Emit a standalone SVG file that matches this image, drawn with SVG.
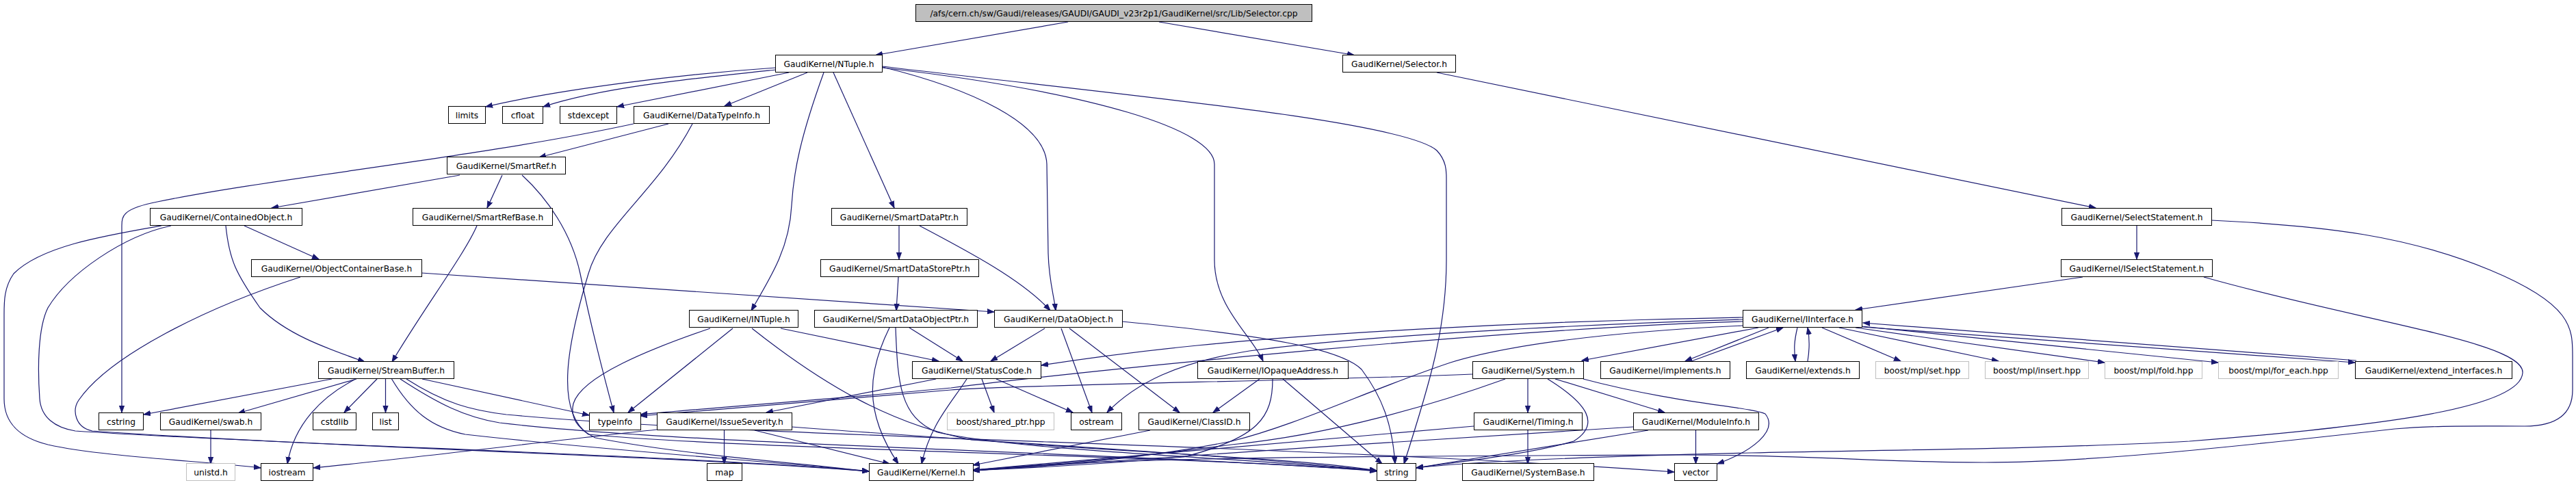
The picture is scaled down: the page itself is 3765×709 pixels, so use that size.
<svg xmlns="http://www.w3.org/2000/svg" width="3765" height="709" viewBox="0 0 3765 709">
<style>
rect{fill:#fff;stroke:#000;stroke-width:1}
.g rect{stroke:#bfbfbf}
.top rect{fill:#bfbfbf}
text{font-family:"DejaVu Sans","Liberation Sans",sans-serif;font-size:12.3px;fill:#000;text-anchor:middle}
#edges path{fill:none;stroke:#191970;stroke-width:1.2;marker-end:url(#a)}
</style>
<defs>
<marker id="a" markerWidth="11" markerHeight="9" refX="10" refY="4" orient="auto" markerUnits="userSpaceOnUse"><path d="M0,0.4 L10,4 L0,7.6 z" fill="#191970" stroke="#191970" stroke-width="1"/></marker>
</defs>
<rect x="0" y="0" width="3765" height="709" style="stroke:none;fill:#fff"/>
<g id="edges">
<path d="M1561,32 L1280,80.5"/>
<path d="M1694,32 L1979,80.5"/>
<path d="M2100,106 L3063,304"/>
<path d="M3123,330 L3123,379"/>
<path d="M3232,322 C3400,330 3520,345 3640,395 C3760,445 3760,480 3760,520 L3760,570 C3760,610 3730,623 3690,623 C3600,623 3560,622 3500,627 C3250,655 3050,676 2900,676 C2750,676 2650,665 2450,665 C2000,667 1600,668 1422,688"/>
<path d="M3044,405 L2712,453"/>
<path d="M3221,405 C3450,470 3690,500 3687,545 C3684,600 3450,625 3200,645 C3000,656 2750,658 2560,662 C2300,668 2150,675 2070,684"/>
<path d="M1134,99 C1000,108 820,130 710,156"/>
<path d="M1134,102 C1000,116 880,128 794,156"/>
<path d="M1153,106 C1060,124 980,140 902,156"/>
<path d="M1180,106 L1059,155"/>
<path d="M1204,106 C1170,200 1160,250 1157,300 C1154,360 1130,400 1098,454"/>
<path d="M1218,106 L1307,304"/>
<path d="M1290,98 C1420,130 1528,180 1530,240 L1532,370 C1533,410 1540,430 1543,454"/>
<path d="M1290,99 C1600,135 1775,190 1775,240 L1775,380 C1775,450 1830,490 1846,528"/>
<path d="M1290,97 C1600,135 2050,175 2100,220 C2114,235 2114,250 2114,260 L2114,380 C2114,480 2090,560 2052,678"/>
<path d="M977,181 L788,230"/>
<path d="M926,181 C700,230 400,260 230,295 C180,305 178,315 178,330 L178,603"/>
<path d="M1012,181 C960,280 880,330 860,400 C830,500 810,600 860,635 C1100,658 1800,668 2012,689"/>
<path d="M672,256 L397,304"/>
<path d="M734,256 L712,304"/>
<path d="M763,256 C800,290 835,340 848,400 C860,460 880,540 897,603"/>
<path d="M236,330 C150,345 60,360 20,400 C6,420 6,440 6,460 L6,583 C6,620 30,640 70,650 C150,668 300,674 381,684"/>
<path d="M250,330 C180,345 100,400 70,450 C55,480 55,540 58,583 C60,610 80,625 110,630 C400,650 1000,665 1270,689"/>
<path d="M330,330 C335,380 345,400 380,450 C420,490 480,510 533,529"/>
<path d="M357,330 L466,379"/>
<path d="M616,399 L1453,456"/>
<path d="M439,405 C300,450 160,520 115,585 C105,600 110,625 135,630 C500,655 1000,667 1270,689"/>
<path d="M697,330 C680,370 620,450 573,529"/>
<path d="M485,554 L210,606"/>
<path d="M521,554 L348,604"/>
<path d="M518,555 C470,580 430,620 420,678"/>
<path d="M551,554 L503,603"/>
<path d="M563.5,554 L563.5,603"/>
<path d="M617,554 L861,607"/>
<path d="M572.5,554 C600,600 630,625 680,635 C900,660 1100,672 1270,689"/>
<path d="M585,554 C640,590 680,610 730,618 C1000,650 1600,660 2012,688"/>
<path d="M594,554 C650,590 690,600 740,606 C1100,640 1900,650 2447,690"/>
<path d="M308,629 L308,678"/>
<path d="M1038,480 C950,510 850,550 838,590 C832,615 850,630 870,640 C1000,665 1150,675 1270,689"/>
<path d="M1071,480 L918,603"/>
<path d="M1099,480 C1200,560 1300,620 1420,643 C1700,665 1900,670 2012,688"/>
<path d="M1141,480 L1372,528"/>
<path d="M1314,330 L1314,379"/>
<path d="M1344,330 C1420,370 1495,410 1535,454"/>
<path d="M1313,405 L1310,454"/>
<path d="M1329,479 L1407,528"/>
<path d="M1300,479 C1270,540 1260,600 1313,678"/>
<path d="M1309,479 C1312,560 1315,610 1370,632 C1500,660 1800,668 2012,688"/>
<path d="M1527,480 L1448,528"/>
<path d="M1551,480 L1596,603"/>
<path d="M1563,480 L1724,603"/>
<path d="M1640,470 C1850,490 1960,510 1990,540 C2020,580 2035,620 2039,678"/>
<path d="M1368,554 L1120,603"/>
<path d="M1413,554 C1390,590 1360,620 1347,678"/>
<path d="M1435,554 L1453,603"/>
<path d="M1456,554 L1568,603"/>
<path d="M960,628 C800,645 600,670 458,684"/>
<path d="M1058.5,629 L1058.5,678"/>
<path d="M1103,629 L1300,678"/>
<path d="M1157,624 C1500,650 1800,665 2012,688"/>
<path d="M1841,554 L1773,603"/>
<path d="M1860,554 C1860,610 1840,640 1730,668 C1600,680 1500,684 1422,688"/>
<path d="M1875,554 L2020,678"/>
<path d="M1681,629 L1422,680"/>
<path d="M2547,464 C2200,470 1900,490 1750,505 C1650,515 1580,525 1522,534"/>
<path d="M2547,467 C2300,475 2000,490 1826,513 C1720,530 1660,560 1618,603"/>
<path d="M2547,470 C2200,480 1600,540 1390,567 C1200,585 1050,595 936,606"/>
<path d="M2547,476 C2350,485 2200,505 2120,530 C2000,570 1900,620 1800,645 C1650,675 1500,683 1422,688"/>
<path d="M2570,479 L2312,527"/>
<path d="M2585,479 L2463,528"/>
<path d="M2472,528 L2606,479"/>
<path d="M2627,479 C2622,500 2622,510 2624,528"/>
<path d="M2642,528 C2645,510 2645,495 2642,479"/>
<path d="M2663,479 L2778,528"/>
<path d="M2688,479 L2921,528"/>
<path d="M2712,479 L3076,530"/>
<path d="M2721,477 L3242,530"/>
<path d="M2722,478 L3442,530"/>
<path d="M3444,527 L2723,472"/>
<path d="M2152,547 C1900,557 1500,562 1390,570 C1200,585 1050,598 936,608"/>
<path d="M2200,554 C2100,590 1950,635 1800,650 C1650,670 1500,682 1422,687"/>
<path d="M2233,554 L2233,603"/>
<path d="M2262,554 C2320,590 2340,620 2300,645 C2230,665 2130,675 2070,684"/>
<path d="M2273,554 L2433,603"/>
<path d="M2314,554 C2450,590 2560,595 2580,605 C2600,630 2560,660 2510,678"/>
<path d="M2233,629 L2233,678"/>
<path d="M2154,623 C1950,640 1700,665 1422,687"/>
<path d="M2387,624 C2100,640 1700,670 1422,688"/>
<path d="M2409,629 C2250,655 2120,675 2070,684"/>
<path d="M2478.5,629 L2478.5,678"/>
</g>
<g id="n_top" class="top"><rect x="1338.5" y="6.5" width="579" height="25"/><text x="1628" y="23.5">/afs/cern.ch/sw/Gaudi/releases/GAUDI/GAUDI_v23r2p1/GaudiKernel/src/Lib/Selector.cpp</text></g>
<g id="n_ntuple"><rect x="1133.5" y="80.5" width="156" height="25"/><text x="1211.5" y="97.5">GaudiKernel/NTuple.h</text></g>
<g id="n_selector"><rect x="1962.5" y="80.5" width="165" height="25"/><text x="2045" y="97.5">GaudiKernel/Selector.h</text></g>
<g id="n_limits"><rect x="655.5" y="155.5" width="54" height="25"/><text x="682.5" y="172.5">limits</text></g>
<g id="n_cfloat"><rect x="734.5" y="155.5" width="59" height="25"/><text x="764" y="172.5">cfloat</text></g>
<g id="n_stdexcept"><rect x="818.5" y="155.5" width="83" height="25"/><text x="860" y="172.5">stdexcept</text></g>
<g id="n_datatypeinfo"><rect x="926.5" y="155.5" width="198" height="25"/><text x="1025.5" y="172.5">GaudiKernel/DataTypeInfo.h</text></g>
<g id="n_smartref"><rect x="653.5" y="229.5" width="173" height="25"/><text x="740" y="246.5">GaudiKernel/SmartRef.h</text></g>
<g id="n_containedobject"><rect x="219.5" y="304.5" width="222" height="25"/><text x="330.5" y="321.5">GaudiKernel/ContainedObject.h</text></g>
<g id="n_smartrefbase"><rect x="603.5" y="304.5" width="204" height="25"/><text x="705.5" y="321.5">GaudiKernel/SmartRefBase.h</text></g>
<g id="n_smartdataptr"><rect x="1215.5" y="304.5" width="198" height="25"/><text x="1314.5" y="321.5">GaudiKernel/SmartDataPtr.h</text></g>
<g id="n_selectstatement"><rect x="3013.5" y="304.5" width="219" height="25"/><text x="3123" y="321.5">GaudiKernel/SelectStatement.h</text></g>
<g id="n_objectcontainerbase"><rect x="367.5" y="379.5" width="249" height="25"/><text x="492" y="396.5">GaudiKernel/ObjectContainerBase.h</text></g>
<g id="n_smartdatastoreptr"><rect x="1199.5" y="379.5" width="231" height="25"/><text x="1315" y="396.5">GaudiKernel/SmartDataStorePtr.h</text></g>
<g id="n_iselectstatement"><rect x="3012.5" y="379.5" width="221" height="25"/><text x="3123" y="396.5">GaudiKernel/ISelectStatement.h</text></g>
<g id="n_intuple"><rect x="1007.5" y="453.5" width="159" height="25"/><text x="1087" y="470.5">GaudiKernel/INTuple.h</text></g>
<g id="n_smartdataobjectptr"><rect x="1190.5" y="453.5" width="238" height="25"/><text x="1309.5" y="470.5">GaudiKernel/SmartDataObjectPtr.h</text></g>
<g id="n_dataobject"><rect x="1453.5" y="453.5" width="187" height="25"/><text x="1547" y="470.5">GaudiKernel/DataObject.h</text></g>
<g id="n_iinterface"><rect x="2547.5" y="453.5" width="174" height="25"/><text x="2634.5" y="470.5">GaudiKernel/IInterface.h</text></g>
<g id="n_streambuffer"><rect x="465.5" y="528.5" width="198" height="25"/><text x="564.5" y="545.5">GaudiKernel/StreamBuffer.h</text></g>
<g id="n_statuscode"><rect x="1333.5" y="528.5" width="188" height="25"/><text x="1427.5" y="545.5">GaudiKernel/StatusCode.h</text></g>
<g id="n_iopaqueaddress"><rect x="1750.5" y="528.5" width="220" height="25"/><text x="1860.5" y="545.5">GaudiKernel/IOpaqueAddress.h</text></g>
<g id="n_system"><rect x="2152.5" y="528.5" width="162" height="25"/><text x="2233.5" y="545.5">GaudiKernel/System.h</text></g>
<g id="n_implements"><rect x="2339.5" y="528.5" width="189" height="25"/><text x="2434" y="545.5">GaudiKernel/implements.h</text></g>
<g id="n_extends"><rect x="2552.5" y="528.5" width="165" height="25"/><text x="2635" y="545.5">GaudiKernel/extends.h</text></g>
<g id="n_mplset" class="g"><rect x="2741.5" y="528.5" width="136" height="25"/><text x="2809.5" y="545.5">boost/mpl/set.hpp</text></g>
<g id="n_mplinsert" class="g"><rect x="2901.5" y="528.5" width="151" height="25"/><text x="2977" y="545.5">boost/mpl/insert.hpp</text></g>
<g id="n_mplfold" class="g"><rect x="3076.5" y="528.5" width="142" height="25"/><text x="3147.5" y="545.5">boost/mpl/fold.hpp</text></g>
<g id="n_mplforeach" class="g"><rect x="3242.5" y="528.5" width="175" height="25"/><text x="3330" y="545.5">boost/mpl/for_each.hpp</text></g>
<g id="n_extendinterfaces"><rect x="3442.5" y="528.5" width="229" height="25"/><text x="3557" y="545.5">GaudiKernel/extend_interfaces.h</text></g>
<g id="n_cstring"><rect x="144.5" y="603.5" width="65" height="25"/><text x="177" y="620.5">cstring</text></g>
<g id="n_swab"><rect x="234.5" y="603.5" width="147" height="25"/><text x="308" y="620.5">GaudiKernel/swab.h</text></g>
<g id="n_cstdlib"><rect x="457.5" y="603.5" width="63" height="25"/><text x="489" y="620.5">cstdlib</text></g>
<g id="n_list"><rect x="544.5" y="603.5" width="38" height="25"/><text x="563.5" y="620.5">list</text></g>
<g id="n_typeinfo"><rect x="861.5" y="603.5" width="75" height="25"/><text x="899" y="620.5">typeinfo</text></g>
<g id="n_issueseverity"><rect x="960.5" y="603.5" width="197" height="25"/><text x="1059" y="620.5">GaudiKernel/IssueSeverity.h</text></g>
<g id="n_sharedptr" class="g"><rect x="1384.5" y="603.5" width="156" height="25"/><text x="1462.5" y="620.5">boost/shared_ptr.hpp</text></g>
<g id="n_ostream"><rect x="1565.5" y="603.5" width="74" height="25"/><text x="1602.5" y="620.5">ostream</text></g>
<g id="n_classid"><rect x="1664.5" y="603.5" width="162" height="25"/><text x="1745.5" y="620.5">GaudiKernel/ClassID.h</text></g>
<g id="n_timing"><rect x="2154.5" y="603.5" width="158" height="25"/><text x="2233.5" y="620.5">GaudiKernel/Timing.h</text></g>
<g id="n_moduleinfo"><rect x="2387.5" y="603.5" width="183" height="25"/><text x="2479" y="620.5">GaudiKernel/ModuleInfo.h</text></g>
<g id="n_unistd" class="g"><rect x="272.5" y="677.5" width="71" height="25"/><text x="308" y="694.5">unistd.h</text></g>
<g id="n_iostream"><rect x="381.5" y="677.5" width="76" height="25"/><text x="419.5" y="694.5">iostream</text></g>
<g id="n_map"><rect x="1033.5" y="677.5" width="51" height="25"/><text x="1059" y="694.5">map</text></g>
<g id="n_kernel"><rect x="1270.5" y="677.5" width="152" height="25"/><text x="1346.5" y="694.5">GaudiKernel/Kernel.h</text></g>
<g id="n_string"><rect x="2012.5" y="677.5" width="57" height="25"/><text x="2041" y="694.5">string</text></g>
<g id="n_systembase"><rect x="2137.5" y="677.5" width="192" height="25"/><text x="2233.5" y="694.5">GaudiKernel/SystemBase.h</text></g>
<g id="n_vector"><rect x="2447.5" y="677.5" width="62" height="25"/><text x="2478.5" y="694.5">vector</text></g>
</svg>
